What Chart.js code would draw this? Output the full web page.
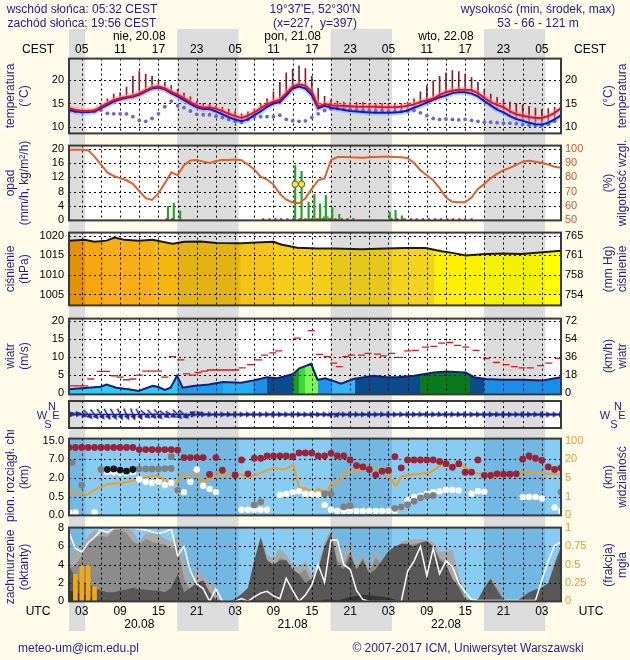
<!DOCTYPE html>
<html lang="pl">
<head>
<meta charset="utf-8">
<title>Meteogram UM</title>
<script src="https://cdn.jsdelivr.net/npm/chart.js@4.4.1/dist/chart.umd.min.js"></script>
<style>
  html, body { margin: 0; padding: 0; background: #FFFBEB; }
  #page { position: relative; width: 630px; height: 660px; overflow: hidden;
          font-family: "Liberation Sans", Arial, sans-serif; }
  #page canvas { position: absolute; left: 0; }
  .lbl { position: absolute; white-space: pre; font-size: 12px; line-height: 14px; color: #1E1E8C; }
  .c { transform: translate(-50%, -50%); }
  .rot { position: absolute; white-space: nowrap; font-size: 12px; line-height: 14px; color: #1E1E8C;
         transform: translate(-50%, -50%) rotate(-90deg); }
  .clip { position: absolute; overflow: hidden; }
  .clip .rot2 { position: absolute; white-space: nowrap; font-size: 12px; line-height: 14px; color: #1E1E8C;
         transform-origin: 0 0; transform: rotate(-90deg); }
  .cmp { position: absolute; font-size: 11px; line-height: 11px; color: #1E1E8C; transform: translate(-50%, -50%); }
</style>
</head>
<body>
<div id="page">
  <canvas id="bg" width="630" height="660" style="top:0"></canvas>
  <canvas id="temp" width="630" height="98" style="top:47px"></canvas>
  <canvas id="rain" width="630" height="98" style="top:134px"></canvas>
  <canvas id="press" width="630" height="96" style="top:221px"></canvas>
  <canvas id="wind" width="630" height="99" style="top:307px"></canvas>
  <canvas id="dir" width="630" height="47" style="top:391px"></canvas>
  <canvas id="vis" width="630" height="100" style="top:427px"></canvas>
  <canvas id="cloud" width="630" height="97" style="top:516px"></canvas>

  <div class="lbl c" style="left:82px;top:9px">wschód słońca: 05:32 CEST</div>
  <div class="lbl c" style="left:82px;top:23px">zachód słońca: 19:56 CEST</div>
  <div class="lbl c" style="left:315px;top:9px">19°37'E, 52°30'N</div>
  <div class="lbl c" style="left:315px;top:23px">(x=227,  y=397)</div>
  <div class="lbl c" style="left:538px;top:9px">wysokość (min, środek, max)</div>
  <div class="lbl c" style="left:538px;top:23px">53 - 66 - 121 m</div>

  <div class="rot" style="left:10px;top:96px">temperatura</div>
  <div class="rot" style="left:24px;top:96px">(°C)</div>
  <div class="rot" style="left:608px;top:96px">(°C)</div>
  <div class="rot" style="left:622px;top:96px">temperatura</div>

  <div class="rot" style="left:10px;top:183px">opad</div>
  <div class="rot" style="left:24px;top:183px">(mm/h, kg/m²/h)</div>
  <div class="rot" style="left:608px;top:183px">(%)</div>
  <div class="rot" style="left:622px;top:183px">wilgotność wzgl.</div>

  <div class="rot" style="left:10px;top:269px">ciśnienie</div>
  <div class="rot" style="left:24px;top:269px">(hPa)</div>
  <div class="rot" style="left:608px;top:269px">(mm Hg)</div>
  <div class="rot" style="left:622px;top:269px">ciśnienie</div>

  <div class="rot" style="left:10px;top:356px">wiatr</div>
  <div class="rot" style="left:24px;top:356px">(m/s)</div>
  <div class="rot" style="left:608px;top:356px">(km/h)</div>
  <div class="rot" style="left:622px;top:356px">wiatr</div>

  <div class="cmp" style="left:42px;top:415px">W</div>
  <div class="cmp" style="left:52px;top:406px">N</div>
  <div class="cmp" style="left:56px;top:415px">E</div>
  <div class="cmp" style="left:48px;top:424px">S</div>
  <div class="cmp" style="left:605px;top:415px">W</div>
  <div class="cmp" style="left:618px;top:406px">N</div>
  <div class="cmp" style="left:622px;top:415px">E</div>
  <div class="cmp" style="left:614px;top:424px">S</div>

  <div class="clip" style="left:2px;top:430px;width:16px;height:92px">
    <div class="rot2" style="left:1px;top:92px">pion. rozciągł. chm.</div>
  </div>
  <div class="rot" style="left:24px;top:477px">(km)</div>
  <div class="rot" style="left:608px;top:477px">(km)</div>
  <div class="rot" style="left:622px;top:477px">widzialność</div>

  <div class="rot" style="left:10px;top:567px">zachmurzenie</div>
  <div class="rot" style="left:24px;top:567px">(oktanty)</div>
  <div class="rot" style="left:608px;top:565px">(frakcja)</div>
  <div class="rot" style="left:622px;top:565px">mgła</div>

  <div class="lbl" style="left:18px;top:641px">meteo-um@icm.edu.pl</div>
  <div class="lbl c" style="left:468px;top:648px">© 2007-2017 ICM, Uniwersytet Warszawski</div>
</div>

<script>
// time axis: hours since 00 UTC 20.08
const hourMin = 1, hourMax = 78;
const hours = Array.from({length: 78}, (_, i) => i + 1);
const gridHours = [3, 6, 9, 12, 15, 18, 21, 24, 27, 30, 33, 36, 39, 42, 45, 48, 51, 54, 57, 60, 63, 66, 69, 72, 75];
const labelHours = [3, 9, 15, 21, 27, 33, 39, 45, 51, 57, 63, 69, 75];
const cestLabels = ['05', '11', '17', '23', '05', '11', '17', '23', '05', '11', '17', '23', '05'];
const utcLabels = ['03', '09', '15', '21', '03', '09', '15', '21', '03', '09', '15', '21', '03'];
const dayHours = [12, 36, 60];
const topDays = ['nie, 20.08', 'pon, 21.08', 'wto, 22.08'];
const bottomDays = ['20.08', '21.08', '22.08'];
const sunriseUTC = 3 + 32 / 60, sunsetUTC = 17 + 56 / 60;

// temperature (°C)
const tempRed = [14.0, 13.6, 13.4, 13.4, 13.5, 14.3, 15.0, 15.7, 16.1, 16.4,
  16.6, 17.1, 17.8, 18.4, 18.6, 18.2, 17.5, 16.9, 16.1, 15.3,
  14.5, 14.1, 14.2, 13.9, 13.4, 12.8, 12.3, 11.9, 12.4, 13.1,
  14.0, 14.8, 15.4, 15.8, 17.2, 18.6, 19.1, 18.8, 17.5, 14.3,
  14.9, 14.6, 14.5, 14.5, 14.4, 14.3, 14.3, 14.3, 14.3, 14.2,
  14.2, 14.2, 14.3, 14.5, 14.8, 15.3, 15.7, 16.0, 16.8, 17.4,
  17.7, 17.9, 17.9, 17.8, 17.2, 16.2, 15.3, 14.7, 14.2, 13.3,
  12.7, 12.4, 12.1, 11.9, 11.9, 12.3, 13.0, 14.0];
const tempBlue = [13.6, 13.3, 13.2, 13.2, 13.3, 14.0, 14.7, 15.4, 15.9, 16.2,
  16.4, 16.9, 17.6, 18.2, 18.4, 18.0, 17.2, 16.5, 15.7, 14.9,
  14.2, 13.8, 13.8, 13.3, 12.7, 12.1, 11.6, 11.2, 11.6, 12.5,
  13.3, 14.3, 15.0, 15.3, 16.7, 18.2, 18.6, 18.2, 16.8, 14.0,
  14.5, 14.1, 13.9, 13.6, 13.4, 13.3, 13.2, 13.1, 13.0, 13.0,
  13.0, 13.1, 13.2, 13.5, 14.1, 14.6, 15.2, 15.8, 16.3, 16.7,
  17.2, 17.4, 17.4, 17.1, 16.5, 15.5, 14.6, 13.7, 13.1, 12.3,
  11.7, 11.3, 10.9, 10.6, 10.5, 10.9, 11.6, 12.5];
const dewPoint = [13.4, 13.3, 13.2, 13.3, 13.4, 13.6, 12.9, 12.8, 12.8, 12.8,
  12.2, 11.4, 11.2, 11.8, 12.8, 14.3, 15.5, 14.5, 14.1, 13.4,
  12.7, 12.6, 12.6, 12.3, 12.0, 11.6, 11.2, 11.0, 11.6, 12.1,
  12.2, 12.2, 12.2, 12.5, 11.6, 11.3, 11.2, 11.3, 12.0, 12.8,
  13.5, 13.9, 13.9, 13.8, 13.7, 13.6, 13.5, 13.5, 13.4, 13.4,
  13.3, 13.3, 13.3, 13.4, 13.5, 13.0, 12.4, 11.8, 11.6, 11.7,
  11.6, 11.5, 11.6, 11.4, 11.2, 11.0, 11.0, 10.9, 10.8, 10.8,
  10.7, 10.5, 10.4, 10.3, 10.3, 10.6, 11.2, 12.3];
const tempMax = [14.2, 13.8, 13.6, 13.6, 13.8, 14.8, 16.0, 17.0, 17.3, 18.5,
  20.8, 21.8, 21.2, 20.8, 20.0, 19.5, 18.8, 18.0, 17.2, 16.4,
  15.5, 15.0, 14.8, 14.5, 14.2, 13.8, 13.3, 12.8, 13.2, 13.8,
  15.0, 16.0, 17.5, 19.5, 21.5, 22.3, 23.0, 22.4, 20.8, 18.2,
  16.5, 15.8, 15.5, 15.3, 15.2, 15.2, 15.2, 15.0, 15.0, 15.0,
  15.0, 15.0, 15.0, 15.3, 16.0, 17.5, 18.8, 19.8, 20.8, 21.5,
  22.0, 21.8, 21.2, 20.5, 19.5, 18.0, 17.0, 16.3, 15.8, 15.3,
  15.0, 14.7, 14.4, 14.0, 13.7, 13.9, 14.2, 14.5];

// precipitation (mm/h) and relative humidity (%)
const humidity = [99.3, 99.3, 99.3, 99.0, 94.5, 89.0, 83.5, 81.0, 79.5, 78.0,
  75.5, 70.5, 65.5, 64.3, 69.0, 76.0, 83.5, 81.5, 88.5, 91.8,
  92.2, 91.0, 90.0, 91.5, 92.2, 92.2, 92.5, 92.0, 89.0, 85.5,
  80.5, 78.5, 75.0, 68.5, 64.5, 62.5, 62.0, 65.5, 72.0, 78.0,
  79.5, 92.0, 94.2, 94.2, 94.0, 93.9, 93.8, 94.0, 94.2, 94.4,
  94.4, 94.2, 94.0, 93.5, 90.0, 85.0, 81.5, 78.0, 72.5, 66.0,
  63.0, 62.7, 62.7, 66.0, 72.0, 75.5, 79.5, 82.5, 85.0, 86.7,
  88.8, 91.0, 91.6, 91.0, 90.0, 89.0, 87.5, 86.7];
const rainHours = [16.5, 17.4, 18.4, 36.4, 37.4, 38.5, 39.4, 40.3, 41.2, 42.2, 43.3, 45.5, 51.2, 52.1, 53.1];
const rainMax = [3.9, 4.8, 2.7, 15.3, 13.7, 5.1, 7.3, 4.6, 7.0, 3.6, 1.7, 0.6, 2.3, 2.8, 1.3];
const rainMeanHours = [37.9, 38.8, 39.7, 40.6, 41.2, 42.0, 42.8];
const rainMean = [0.3, 0.4, 0.4, 0.5, 1.1, 0.6, 0.3];
const rainFlagHours = [16.3, 17.1, 31.4, 32.4, 33.3, 34.2, 35.2, 36.1, 37.1, 38, 39, 39.9, 40.8, 41.8, 42.7, 43.7, 44.6,
  51.5, 52.4, 53.5, 54.5, 55.4, 56.4, 57.3, 58.3, 59.2, 60.2, 61.1, 62.1, 63, 64];
const rainFlagLevel = 0.3;
const thunderHours = [36.4, 37.4];
const thunderVals = [10.1, 10.1];

// pressure (hPa)
const pressHours = [1, 3.4, 5, 6.9, 8.1, 9.7, 11.9, 14.1, 16, 17.2, 19.1, 21.6, 24.1, 27.9, 31.1, 33,
  34.2, 36.7, 39.9, 42.4, 46.8, 50.6, 53.7, 56.8, 59.3, 61.2, 63.1, 65.6, 68.8, 71.9, 75.1, 78];
const pressure = [1018.8, 1019.0, 1018.5, 1018.8, 1019.6, 1019.0, 1018.8, 1019.0, 1018.4, 1018.0, 1018.5,
  1018.6, 1018.2, 1018.1, 1018.4, 1018.5, 1017.8, 1017.0, 1016.8, 1016.8, 1016.6, 1016.8, 1016.9,
  1016.9, 1016.1, 1015.6, 1015.0, 1015.3, 1015.5, 1015.4, 1015.8, 1016.2];
const pressColorEdges = [1, 3.5, 6.5, 14.1, 17.9, 27.9, 32.9, 42.3, 58.1, 65.6, 78];
const pressColors = ['#F29A00', '#F7A70C', '#F8AE16', '#F4B80E', '#F0BE12', '#F4C416', '#F4CE18', '#F2D41C', '#FFF000', '#FFFF00'];

// wind (m/s)
const windHours = [1, 4, 5.9, 6.9, 8.4, 10.3, 11.9, 14.1, 15, 16, 16.9, 17.9, 18.8, 20.4, 22.9, 25.1, 27.9, 29.8,
  32, 33.6, 36.1, 37, 38.9, 39.9, 41.1, 43.6, 45.5, 48.7, 50.6, 52.4, 55, 58.1, 60, 63.1, 64.4, 66.3,
  68.8, 71.9, 75.1, 78];
const windSpeed = [1.05, 1.5, 1.75, 2.4, 1.5, 1.05, 0.6, 2.0, 1.7, 0.9, 1.5, 4.8, 1.5, 2.0, 2.4, 3.1, 2.9, 3.5,
  4.4, 4.1, 5.3, 6.8, 8.1, 3.7, 4.1, 2.6, 3.9, 4.8, 4.4, 4.4, 4.8, 5.7, 6.0, 5.7, 4.4, 3.9,
  3.7, 3.7, 3.5, 4.4];
const gustHours = [1.5, 2.5, 3.5, 4.4, 5.9, 6.9, 8.1, 9, 10, 11, 12, 13, 14, 15, 16, 17.2, 18.5, 19.4, 20.3, 21.2,
  22.2, 23.1, 24.1, 25.1, 26.1, 27.1, 28.1, 29.4, 30.7, 31.6, 32.9, 33.8, 36.7, 38.9, 40.2, 41.4, 42.4, 43.3,
  44.3, 45.2, 46.8, 47.8, 49.3, 50.2, 51.5, 52.7, 54, 55.2, 56.8, 58.1, 59.3, 60.6, 61.8, 63.1, 64.7, 66.3,
  67.9, 69.4, 70.7, 71.9, 73.2, 74.8, 76.1, 77.6];
const gusts = [2.0, 2.0, 2.0, 3.9, 6.0, 6.0, 4.8, 4.4, 3.7, 3.9, 5.0, 6.1, 6.1, 6.1, 4.4, 10.1, 9.2, 5.3, 5.0, 5.7,
  6.1, 6.4, 6.4, 6.4, 6.4, 6.4, 7.0, 7.9, 9.2, 10.5, 11.1, 11.7, 15.2, 17.3, 10.7, 10.1, 8.3, 7.3,
  10.1, 10.5, 10.5, 11.0, 10.8, 10.3, 11.0, 9.9, 11.7, 11.8, 12.7, 12.9, 13.8, 14.0, 13.2, 12.7, 11.8, 9.6,
  8.5, 7.9, 7.3, 7.0, 7.0, 7.6, 8.3, 9.6];
const windColorEdges = [1, 17.9, 25.1, 29.8, 32, 36.1, 37, 38, 39.9, 42.1, 45.8, 55.9, 63.7, 65.9, 78];
const windColors = ['#2ECBF3', '#1F9DEC', '#24B0F4', '#1C8FE6', '#0C4B8C', '#1E9A1E', '#3AD83A',
  '#7CF852', '#1F93EB', '#35B5F5', '#0C4B8C', '#0A7A1E', '#0C4B8C', '#1A8DE6'];
// arrow direction on the strip (deg, 0 = pointing east)
const windDir = [-15, -10, 20, 45, 50, 55, 60, 60, 65, 65,
  70, 60, 40, 45, 50, 35, 30, 45, 40, -30,
  -20, 0, 5, 0, 0, 5, 0, 0, 0, 0,
  0, 0, 5, 0, 0, 0, 5, 0, -10, -5,
  0, -20, -40, 0, 0, 5, 0, 0, 0, 5,
  0, 0, 5, 0, 0, 5, 10, 5, 10, 5,
  10, 5, 5, 0, 0, 0, 0, 5, 0, 0,
  0, 0, 0, 5, 0, 0, 0, 0];

// cloud base (km) and visibility (km)
const cbStops = [0, 0.5, 2, 7, 15];
const cbTickLabels = ['0.0', '0.5', '2.0', '7.0', '15.0'];
const visStops = [0, 1, 5, 20, 100];
const visTickLabels = ['0', '1', '5', '20', '100'];
const cbRed = [12, 12, 12, 12, 12, 12, 12, 12, 12, 12,
  12, 11.1, 11.1, 11.1, 11.1, 11.1, 11.1, 10.9, 7.7, 7.7,
  7.7, 7.7, 2.95, 7.7, 4.05, null, 2.8, 6.8, 3.1, 7.4,
  7.4, 8.4, 8.4, 8.4, 8.4, 8.2, 9.7, 9.7, 9.7, 8.4,
  8.4, 9.5, 8.4, 8.4, 6.8, 5.3, 4.95, 4.25, 2.8, 3.8,
  4.0, 8.1, 4.7, 6.8, 6.8, 6.8, 6.8, 6.8, 6.4, 5.8,
  4.85, 5.8, 3.55, 3.55, 6.8, 2.7, 2.7, 3.1, 3.0, 3.0,
  3.1, 7.0, 8.4, 7.4, 6.7, 4.95, 4.25, 4.7];
const cbBlackHours = [7, 8, 9, 10, 11];
const cbBlack = [4.25, 4.4, 4.1, 3.8, 4.25];
const cbGrayHours = [1.5, 3, 6, 12, 13, 14, 15, 16, 17, 17, 18, 30, 31, 41, 42, 44, 45, 52, 53, 54, 55, 56, 57, 58, 78];
const cbGray = [6.1, 1.43, 4.25, 4.4, 4.4, 4.4, 4.4, 4.5, 4.55, 8.1, 1.0, 0.28, 0.36, 0.74, 0.74, 0.23, 0.26,
  0.19, 0.23, 0.29, 0.38, 0.47, 0.55, 0.6, 0.87];
const cbWhiteHours = [1, 2, 5, 7, 8, 9, 10, 11, 12, 13, 14, 15, 16, 17, 18, 19, 20, 21, 22, 23, 24, 28, 29, 30, 31, 32,
  34, 35, 36, 37, 38, 39, 40, 41, 42, 43, 44, 45, 46, 47, 48, 49, 50, 51, 52, 53, 54, 55, 56, 57, 58, 59, 60,
  61, 62, 64, 65, 66, 72, 73, 74, 75, 77, 78];
const cbWhite = [0.08, 0.08, 0.08, 3.55, 3.55, 3.4, 3.3, 3.55, 1.9, 1.69, 1.59, 1.69, 1.43, 1.59, 0.94, 0.86, 1.69,
  4.25, 1.38, 1.12, 0.86, 0.15, 0.15, 0.15, 0.15, 0.15, 0.65, 0.72, 0.86, 0.94, 0.72, 0.72, 0.68, 0.28, 0.15,
  0.12, 0.12, 0.12, 0.12, 0.12, 0.12, 0.12, 0.12, 0.12, 0.12, 0.23, 0.41, 0.49, 0.55, 0.74, 0.86, 0.94, 1.04,
  1.04, 1.0, 0.74, 0.94, 0.9, 0.49, 0.49, 0.49, 0.45, 0.21, 0.12];
const visHours = [1, 2.8, 3.7, 5.3, 7.2, 9.1, 11, 12.8, 14.7, 16, 16.9, 17.9, 18.8, 19.7, 21, 21.9, 23.2, 24.8,
  26.3, 27.9, 29.2, 31.1, 33, 34.8, 36.1, 37, 38.3, 39.2, 40.2, 41.1, 42.1, 43, 44, 45.5, 47.4, 49, 50.6,
  52.1, 53.1, 55, 57.5, 59.3, 61.2, 62.5, 64.4, 66.3, 68.1, 70, 71.9, 73.8, 75.7, 78];
const visibility = [2.45, 1.6, 1.3, 2.65, 3.7, 3.9, 4.4, 5.3, 7.1, 4.7, 3.4, 4.0, 7.9, 6.5, 9.2, 4.0, 5.3, 8.6,
  6.5, 7.9, 5.3, 9.2, 13, 11.7, 15.6, 3.0, 2.65, 1.96, 2.65, 1.28, 4.0, 3.7, 9.2, 10.4, 13, 11.7, 10.4,
  3.35, 6.5, 7.9, 9.2, 15.6, 13.9, 14.9, 9.2, 7.1, 6.05, 7.9, 10, 9.2, 8.6, 7.9];

// cloud cover (octas) and fog (fraction)
const cloudHigh = [4.4, 5.8, 6.2, 7.2, 7.8, 7.5, 7.6, 7.9, 8.0, 8.0,
  7.6, 6.5, 7.4, 7.4, 7.4, 6.8, 6.5, 7.2, 4.6, 1.9,
  3.7, 2.6, 2.3, 1.4, 0.2, 0, 0, 0.7, 1.2, 3.0,
  7.2, 5.1, 4.7, 5.8, 5.1, 4.0, 3.7, 4.4, 2.8, 4.0,
  6.5, 7.9, 6.0, 5.1, 6.5, 4.0, 5.3, 3.9, 5.8, 4.2,
  4.4, 4.6, 6.5, 6.7, 6.8, 6.8, 6.7, 6.5, 5.4, 5.5,
  5.6, 3.0, 0.5, 0.2, 0.3, 1.0, 2.4, 2.0, 0.3, 0.1,
  0.1, 0.1, 0.1, 0.7, 1.0, 2.0, 4.5, 5.8];
const cloudMid = [3.5, 4.0, 5.0, 6.5, 7.0, 7.2, 7.0, 7.8, 7.8, 7.5,
  6.5, 6.2, 6.8, 6.5, 6.3, 6.2, 5.8, 6.0, 2.5, 1.2,
  2.0, 1.5, 1.0, 0.3, 0, 0, 0, 0.3, 0.8, 2.0,
  6.0, 4.0, 3.5, 4.8, 4.5, 3.0, 3.0, 3.5, 2.0, 3.5,
  6.0, 7.5, 4.5, 4.0, 5.5, 3.5, 4.8, 3.2, 4.8, 4.0,
  4.2, 4.3, 5.8, 6.0, 6.3, 6.4, 6.3, 6.0, 4.8, 4.2,
  2.0, 2.5, 0.3, 0.1, 0.2, 0.8, 2.0, 1.5, 0.2, 0,
  0, 0, 0, 0.5, 0.8, 1.5, 4.0, 5.5];
const cloudLow = [4.0, 2.5, 2.0, 2.0, 1.5, 1.2, 1.0, 1.0, 1.2, 1.3,
  1.5, 1.3, 1.3, 1.2, 1.2, 1.0, 1.5, 3.0, 1.0, 1.5,
  2.0, 2.3, 1.0, 0.2, 0, 0, 0.3, 0.8, 1.5, 4.5,
  7.0, 4.5, 4.0, 4.5, 4.5, 3.5, 3.0, 2.0, 2.5, 3.5,
  6.0, 7.5, 4.0, 3.5, 5.0, 3.5, 4.5, 3.0, 3.5, 4.5,
  5.5, 6.0, 6.3, 6.3, 6.0, 6.4, 6.6, 6.0, 4.5, 4.0,
  2.5, 1.5, 0.2, 0, 0.2, 1.5, 2.5, 1.2, 0.2, 0,
  0, 0.5, 1.0, 1.3, 1.5, 2.0, 4.0, 6.0];
const cloudBase = [1.2, 1.0, 0.8, 0.6, 0.3, 0.1, 0, 0, 0, 0,
  0, 0, 0, 0, 0, 0, 0, 0, 0, 0,
  0, 0, 0, 0, 0, 0, 0, 0, 0, 0,
  0, 0, 0, 0, 0, 0, 0, 0, 0, 0,
  0.2, 0.2, 0.1, 0.3, 0.5, 0.6, 0.7, 0.7, 0.6, 0.5,
  0.4, 0.2, 0, 0, 0, 0, 0, 0, 0, 0,
  0, 0, 0, 0, 0, 0, 0, 0, 0, 0,
  0, 0, 0, 0, 0, 0, 0, 0];
const cloudTotal = [7.5, 5.8, 5.4, 6.4, 7.0, 7.8, 7.5, 8.0, 8.0, 8.0,
  8.0, 7.9, 7.8, 7.6, 7.4, 7.6, 7.9, 5.0, 6.0, 3.3,
  1.9, 1.4, 0, 1.4, 0, 0, 0, 0.3, 0, 0.5,
  0.9, 1.1, 0.6, 0.3, 2.5, 1.2, 0, 0.7, 1.8, 4.0,
  2.1, 6.7, 6.7, 4.0, 3.5, 1.2, 0.2, 0, 0, 0,
  0, 0, 0, 3.3, 4.4, 6.0, 2.8, 5.8, 3.0, 4.4,
  3.8, 2.0, 1.0, 0.2, 0.1, 0.1, 0.1, 0.1, 0.1, 0.1,
  0.1, 0.1, 0.1, 0.1, 2.3, 4.4, 6.1, 6.5];
const fogHours = [2, 3, 4, 5];
const fog = [0.37, 0.48, 0.49, 0.2];

// ---------- helpers ----------
Chart.defaults.font.family = '"Liberation Sans", Arial, sans-serif';
Chart.defaults.font.size = 11;
Chart.defaults.color = '#000';

const nights = [[hourMin, sunriseUTC], [sunsetUTC, sunriseUTC + 24], [sunsetUTC + 24, sunriseUTC + 48], [sunsetUTC + 48, sunriseUTC + 72]];
const xy = (hs, vs) => hs.map((h, i) => ({x: h, y: vs[i]}));
const level = (v, stops) => {
  if (v == null) return null;
  for (let i = 0; i < stops.length - 1; i++) {
    if (v <= stops[i + 1]) return i + (v - stops[i]) / (stops[i + 1] - stops[i]);
  }
  return stops.length - 1;
};
const darken = (hex, f) => {
  const n = parseInt(hex.slice(1), 16);
  const r = Math.round(((n >> 16) & 255) * (1 - f)), g = Math.round(((n >> 8) & 255) * (1 - f)), b = Math.round((n & 255) * (1 - f));
  return `rgb(${r},${g},${b})`;
};

// horizontal gradient with hard colour steps, optionally darker during the night
function bandGradient(chart, edges, colors, shade = 0) {
  const a = chart.chartArea;
  if (!a) return colors[0];
  const xs = chart.scales.x;
  const g = chart.ctx.createLinearGradient(a.left, 0, a.right, 0);
  const pos = h => Math.min(1, Math.max(0, (xs.getPixelForValue(h) - a.left) / (a.right - a.left)));
  const cuts = [...new Set(edges.concat(shade ? nights.flat() : []))]
    .filter(h => h >= hourMin && h <= hourMax).sort((p, q) => p - q);
  for (let k = 0; k < cuts.length - 1; k++) {
    const mid = (cuts[k] + cuts[k + 1]) / 2;
    let ci = 0;
    while (ci < colors.length - 1 && mid > edges[ci + 1]) ci++;
    const dark = shade && nights.some(([n0, n1]) => mid > n0 && mid < n1);
    const col = dark ? darken(colors[ci], shade) : colors[ci];
    g.addColorStop(pos(cuts[k]), col);
    g.addColorStop(pos(cuts[k + 1]), col);
  }
  return g;
}

function fillNights(chart, top, bottom, color) {
  const {ctx, chartArea: a, scales: {x}} = chart;
  ctx.fillStyle = color;
  nights.forEach(([h0, h1]) => {
    const x0 = Math.max(a.left, x.getPixelForValue(h0));
    const x1 = Math.min(a.right, x.getPixelForValue(h1));
    ctx.fillRect(x0, top, x1 - x0, bottom - top);
  });
}

function drawGrid(chart, opts) {
  const {ctx, chartArea: a, scales} = chart;
  ctx.save();
  ctx.strokeStyle = '#000';
  ctx.lineWidth = 1;
  ctx.setLineDash([2, 3]);
  ctx.beginPath();
  gridHours.forEach(h => {
    const px = Math.round(scales.x.getPixelForValue(h)) + 0.5;
    ctx.moveTo(px, a.top);
    ctx.lineTo(px, a.bottom);
  });
  (opts.yGrid || []).forEach(v => {
    const py = Math.round(scales.y.getPixelForValue(v)) + 0.5;
    if (py > a.top + 2 && py < a.bottom - 2) {
      ctx.moveTo(a.left, py);
      ctx.lineTo(a.right, py);
    }
  });
  ctx.stroke();
  ctx.restore();
}

const panelPlugin = {
  id: 'panel',
  beforeDatasetsDraw(chart, args, opts) {
    const a = chart.chartArea;
    chart.ctx.save();
    chart.ctx.fillStyle = opts.day;
    chart.ctx.fillRect(a.left, a.top, a.width, a.height);
    fillNights(chart, a.top, a.bottom, opts.night);
    chart.ctx.restore();
    if (opts.gridAfter < 0) drawGrid(chart, opts);
  },
  afterDatasetDraw(chart, args, opts) {
    if (args.index === opts.gridAfter) drawGrid(chart, opts);
  },
  afterDraw(chart) {
    const {ctx, chartArea: a} = chart;
    ctx.save();
    ctx.strokeStyle = '#3A3A3A';
    ctx.lineWidth = 2;
    ctx.strokeRect(a.left, a.top, a.width, a.height);
    ctx.restore();
  }
};

const framePlugin = {
  id: 'frame',
  beforeDraw(chart) {
    const {ctx, chartArea: a, scales: {x}} = chart;
    ctx.save();
    fillNights(chart, a.top, a.bottom, '#DCDCDC');
    ctx.fillStyle = '#000';
    ctx.font = '12px "Liberation Sans", Arial, sans-serif';
    ctx.textAlign = 'center';
    ctx.textBaseline = 'middle';
    labelHours.forEach((h, i) => {
      const px = x.getPixelForValue(h);
      ctx.fillText(cestLabels[i], px, 50);
      ctx.fillText(utcLabels[i], px, 612);
    });
    dayHours.forEach((h, i) => {
      const px = x.getPixelForValue(h);
      ctx.fillText(topDays[i], px, 37);
      ctx.fillText(bottomDays[i], px, 625);
    });
    ctx.fillText('CEST', 38, 50);
    ctx.fillText('CEST', 590, 50);
    ctx.fillText('UTC', 38, 612);
    ctx.fillText('UTC', 591, 612);
    ctx.restore();
  }
};

const xAxis = () => ({type: 'linear', min: hourMin, max: hourMax, display: false, offset: false, grid: {offset: false}});

function yAxis(position, min, max, ticks, opts = {}) {
  return {
    type: 'linear', position, min, max, display: true, bounds: 'data', beginAtZero: false,
    grid: {display: false, drawTicks: false}, border: {display: false},
    afterBuildTicks: ax => { ax.ticks = ticks.map(v => ({value: v})); },
    afterFit: ax => { ax.width = 69; },
    ticks: {padding: position === 'left' ? 5 : 4, color: opts.color || '#000', font: {size: 11},
      autoSkip: false, maxRotation: 0, callback: opts.fmt || (v => String(v))}
  };
}

function panel(id, cfg) {
  return new Chart(document.getElementById(id), {
    type: 'line',
    data: {datasets: cfg.datasets},
    options: {
      responsive: false, animation: false, events: [],
      layout: {padding: Object.assign({top: 10, bottom: 10, left: 0, right: 0}, cfg.pad || {})},
      plugins: {legend: {display: false}, tooltip: {enabled: false}, panel: cfg.panel},
      scales: Object.assign({x: xAxis()}, cfg.scales)
    },
    plugins: [panelPlugin]
  });
}

const white = {day: '#FFFFFF', night: '#DCDCDC'};
const sky = {day: '#88CCF2', night: '#72B8E2'};

// ---------- background, hours, days ----------
new Chart(document.getElementById('bg'), {
  type: 'line',
  data: {datasets: []},
  options: {
    responsive: false, animation: false, events: [],
    layout: {padding: {left: 69, right: 69, top: 29, bottom: 29}},
    plugins: {legend: {display: false}, tooltip: {enabled: false}},
    scales: {x: xAxis(), y: {display: false, min: 0, max: 1}}
  },
  plugins: [framePlugin]
});

// ---------- temperature ----------
panel('temp', {
  panel: Object.assign({gridAfter: -1, yGrid: [10, 15, 20]}, white),
  scales: {
    y: yAxis('left', 8.63, 24.55, [10, 15, 20]),
    y2: yAxis('right', 8.63, 24.55, [10, 15, 20])
  },
  datasets: [
    {data: xy(hours, tempRed), yAxisID: 'y', borderColor: '#E8101E', borderWidth: 2, pointRadius: 0},
    {data: xy(hours, tempBlue), yAxisID: 'y', borderColor: '#1414D0', borderWidth: 2, pointRadius: 0},
    {data: xy(hours, dewPoint), yAxisID: 'y', showLine: false, pointRadius: 1.9, pointBackgroundColor: '#6A6AC8', pointBorderWidth: 0},
    {data: xy(hours, tempRed), yAxisID: 'y', borderColor: 'rgba(255,140,160,0.45)', borderWidth: 6, pointRadius: 0},
    {data: xy(hours, tempBlue), yAxisID: 'y', borderColor: 'rgba(130,200,245,0.6)', borderWidth: 6, pointRadius: 0},
    {type: 'bar', yAxisID: 'y', data: hours.map((h, i) => ({x: h, y: [tempBlue[i], tempMax[i]]})),
      backgroundColor: '#8E1B22', barThickness: 1, grouped: false}
  ]
});

// ---------- precipitation / humidity ----------
panel('rain', {
  panel: Object.assign({gridAfter: -1, yGrid: [4, 8, 12, 16, 20]}, white),
  scales: {
    y: yAxis('left', 0, 20.88, [0, 4, 8, 12, 16, 20]),
    y2: yAxis('right', 50, 102.2, [50, 60, 70, 80, 90, 100], {color: '#D9552B'})
  },
  datasets: [
    {data: xy(thunderHours, thunderVals), yAxisID: 'y', showLine: false, pointRadius: 3.2,
      pointBackgroundColor: '#F2E35A', pointBorderColor: '#6E5E10', pointBorderWidth: 1},
    {data: xy(hours, humidity), yAxisID: 'y2', borderColor: '#E0602C', borderWidth: 2, pointRadius: 0},
    {data: rainFlagHours.map(h => ({x: h, y: rainFlagLevel})), yAxisID: 'y', showLine: false, pointStyle: 'rect',
      pointRadius: 1.6, pointBackgroundColor: '#C0282C', pointBorderWidth: 0},
    {type: 'bar', yAxisID: 'y', data: xy(rainHours, rainMax), backgroundColor: '#1FA61F', barThickness: 1.5, grouped: false},
    {type: 'bar', yAxisID: 'y', data: xy(rainMeanHours, rainMean), backgroundColor: '#3ACB3A', barThickness: 5, grouped: false}
  ]
});

// ---------- pressure ----------
panel('press', {
  panel: Object.assign({gridAfter: 1, yGrid: [1005, 1010, 1015, 1020]}, white),
  scales: {
    y: yAxis('left', 1002.2, 1020.86, [1005, 1010, 1015, 1020]),
    y2: yAxis('right', 1002.2, 1020.86, [1005, 1010, 1015, 1020], {fmt: v => String(Math.round(v * 0.750062))})
  },
  datasets: [
    {data: xy(pressHours, pressure), yAxisID: 'y', borderColor: '#1A1A1A', borderWidth: 2, pointRadius: 0},
    {data: xy(pressHours, pressure), yAxisID: 'y', borderColor: 'transparent', borderWidth: 0, pointRadius: 0,
      fill: 'start', backgroundColor: c => bandGradient(c.chart, pressColorEdges, pressColors, 0.055)}
  ]
});

// ---------- wind speed / gusts ----------
panel('wind', {
  panel: Object.assign({gridAfter: 2, yGrid: [5, 10, 15, 20]}, white),
  scales: {
    y: yAxis('left', -0.35, 20.6, [0, 5, 10, 15, 20]),
    y2: yAxis('right', -0.35, 20.6, [0, 5, 10, 15, 20], {fmt: v => String(Math.round(v * 3.6))})
  },
  datasets: [
    {data: xy(gustHours, gusts), yAxisID: 'y', showLine: false, pointStyle: 'line', pointRadius: 3.5,
      pointBorderColor: '#D81818', pointBorderWidth: 1.3},
    {data: xy(windHours, windSpeed), yAxisID: 'y', borderColor: '#12207A', borderWidth: 2, pointRadius: 0},
    {data: xy(windHours, windSpeed), yAxisID: 'y', borderColor: 'transparent', borderWidth: 0, pointRadius: 0,
      fill: 'start', backgroundColor: c => bandGradient(c.chart, windColorEdges, windColors)}
  ]
});

// ---------- wind direction ----------
function arrowImage(len) {
  const c = document.createElement('canvas');
  c.width = len + 4; c.height = len + 4;
  const g = c.getContext('2d'), m = c.height / 2;
  g.strokeStyle = '#1B2590'; g.fillStyle = '#1B2590'; g.lineWidth = 1.6;
  g.beginPath(); g.moveTo(2, m); g.lineTo(len - 1, m); g.stroke();
  g.beginPath(); g.moveTo(len + 2, m); g.lineTo(len - 4, m - 3); g.lineTo(len - 4, m + 3); g.closePath(); g.fill();
  return c;
}
const bigArrow = arrowImage(13), smallArrow = arrowImage(8);

panel('dir', {
  pad: {left: 69, right: 69},
  panel: Object.assign({gridAfter: -1, yGrid: []}, white),
  scales: {y: {display: false, min: -1, max: 1}},
  datasets: [
    {data: hours.map(h => ({x: h, y: 0})), yAxisID: 'y', borderColor: '#1B2590', borderWidth: 1.5,
      pointRadius: 5, pointRotation: windDir, pointStyle: c => (c.dataIndex < 21 ? bigArrow : smallArrow)}
  ]
});

// ---------- cloud base / visibility ----------
panel('vis', {
  panel: Object.assign({gridAfter: -1, yGrid: [1, 2, 3, 4]}, sky),
  scales: {
    y: yAxis('left', 0, 4.1, [0, 1, 2, 3, 4], {fmt: (v, i) => cbTickLabels[i]}),
    y2: yAxis('right', 0, 4.1, [0, 1, 2, 3, 4], {fmt: (v, i) => visTickLabels[i], color: '#EE9A2A'})
  },
  datasets: [
    {data: xy(hours, cbRed.map(v => level(v, cbStops))), yAxisID: 'y', showLine: false, pointRadius: 3.4,
      pointBackgroundColor: '#9B2335', pointBorderWidth: 0},
    {data: xy(cbBlackHours, cbBlack.map(v => level(v, cbStops))), yAxisID: 'y', showLine: false, pointRadius: 3.4,
      pointBackgroundColor: '#151515', pointBorderWidth: 0},
    {data: xy(cbGrayHours, cbGray.map(v => level(v, cbStops))), yAxisID: 'y', showLine: false, pointRadius: 3.4,
      pointBackgroundColor: '#808080', pointBorderWidth: 0},
    {data: xy(cbWhiteHours, cbWhite.map(v => level(v, cbStops))), yAxisID: 'y', showLine: false, pointRadius: 3.2,
      pointBackgroundColor: '#FFFFFF', pointBorderWidth: 0},
    {data: xy(visHours, visibility.map(v => level(v, visStops))), yAxisID: 'y', borderColor: '#F39C22', borderWidth: 2, pointRadius: 0}
  ]
});

// ---------- cloud cover / fog ----------
panel('cloud', {
  panel: Object.assign({gridAfter: 2, yGrid: [2, 4, 6, 8]}, sky),
  scales: {
    y: yAxis('left', 0, 8.05, [0, 2, 4, 6, 8]),
    y2: yAxis('right', 0, 8.05 / 8, [0, 0.25, 0.5, 0.75, 1], {color: '#EE9A2A'})
  },
  datasets: [
    {type: 'bar', yAxisID: 'y2', data: xy(fogHours, fog), backgroundColor: '#F3A712', barThickness: 4, grouped: false},
    {data: xy(hours, cloudTotal), yAxisID: 'y', borderColor: '#FFFFFF', borderWidth: 1.5, pointRadius: 0},
    {data: xy(hours, cloudBase), yAxisID: 'y', borderColor: 'transparent', borderWidth: 0, pointRadius: 0, fill: 'start', backgroundColor: '#343434'},
    {data: xy(hours, cloudLow), yAxisID: 'y', borderColor: 'transparent', borderWidth: 0, pointRadius: 0, fill: 'start', backgroundColor: '#585858'},
    {data: xy(hours, cloudMid), yAxisID: 'y', borderColor: 'transparent', borderWidth: 0, pointRadius: 0, fill: 'start', backgroundColor: '#8C8C8C'},
    {data: xy(hours, cloudHigh), yAxisID: 'y', borderColor: 'transparent', borderWidth: 0, pointRadius: 0, fill: 'start', backgroundColor: '#A9A9A9'}
  ]
});
</script>
</body>
</html>
